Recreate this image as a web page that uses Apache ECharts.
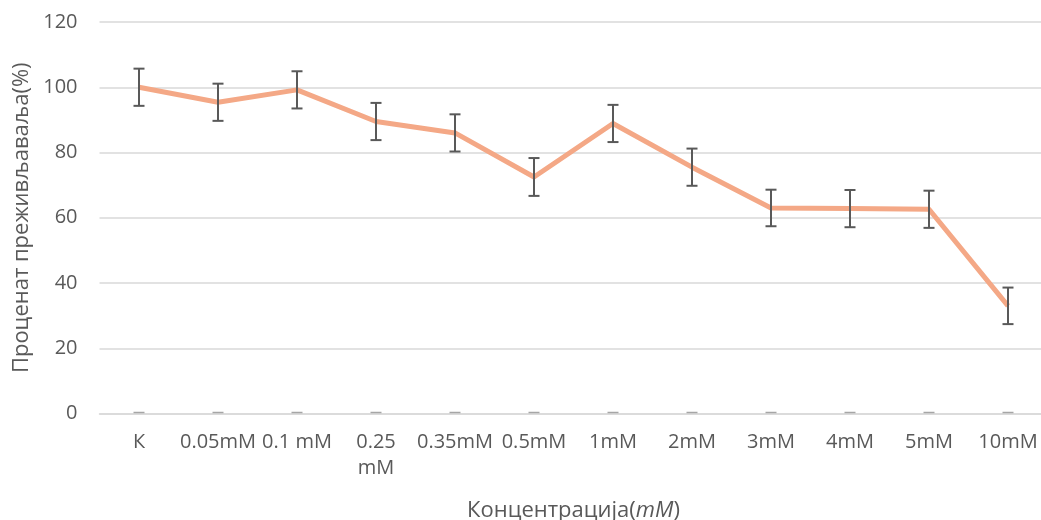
<!DOCTYPE html>
<html><head><meta charset="utf-8">
<script src="https://cdn.jsdelivr.net/npm/echarts@6/dist/echarts.min.js"></script>
<style>html,body{margin:0;padding:0;background:#fff}#c{width:1041px;height:520px}</style>
</head><body><div id="c"></div>
<script>
var categories = ['К', '0.05mM', '0.1 mM', '0.25\nmM', '0.35mM', '0.5mM', '1mM', '2mM', '3mM', '4mM', '5mM', '10mM'];
var survival = [100, 95.4, 99.2, 89.5, 86, 72.5, 88.9, 75.5, 63, 62.8, 62.6, 33];
var errors = [5.7, 5.7, 5.7, 5.7, 5.7, 5.8, 5.7, 5.7, 5.6, 5.7, 5.7, 5.6];
var zeroSeries = [0, 0, 0, 0, 0, 0, 0, 0, 0, 0, 0, 0];
var yTicks = [0, 20, 40, 60, 80, 100, 120];

var FONT = 'Open Sans';
var chart = echarts.init(document.getElementById('c'), null, {renderer: 'canvas'});
chart.setOption({
  animation: false,
  textStyle: {fontFamily: FONT},
  grid: {left: 99.5, top: 22, width: 948, height: 391.5, containLabel: false, outerBoundsMode: 'none'},
  xAxis: {
    type: 'category', data: categories, boundaryGap: true,
    axisLine: {show: true, lineStyle: {color: '#d9d9d9', width: 1.5}},
    axisTick: {show: false},
    axisLabel: {color: '#595959', fontSize: 20, margin: 16, lineHeight: 26, fontFamily: FONT, interval: 0, hideOverlap: false},
    name: 'Концентрација({i|mM})', nameLocation: 'middle', nameGap: 86,
    nameTextStyle: {color: '#595959', fontSize: 22, fontFamily: FONT,
      rich: {i: {fontStyle: 'italic', color: '#595959', fontSize: 22, fontFamily: FONT}}}
  },
  yAxis: {
    type: 'value', min: yTicks[0], max: yTicks[yTicks.length - 1], interval: 20,
    axisLine: {show: false}, axisTick: {show: false},
    splitLine: {lineStyle: {color: '#d9d9d9', width: 1.5}},
    axisLabel: {color: '#595959', fontSize: 20, margin: 22, fontFamily: FONT},
    name: 'Проценат преживљаваља(%)', nameLocation: 'middle', nameGap: 65, nameRotate: 90,
    nameTextStyle: {color: '#595959', fontSize: 22, fontFamily: FONT}
  },
  series: [
    {
      type: 'line', data: survival, symbol: 'none', z: 2,
      lineStyle: {color: '#F4A886', width: 5, join: 'round'}
    },
    {
      type: 'custom', z: 3, data: survival.map(function (v, i) { return [i, v, errors[i]]; }),
      renderItem: function (params, api) {
        var i = api.value(0), v = api.value(1), e = api.value(2);
        var top = api.coord([i, v + e]), bot = api.coord([i, v - e]);
        var w = 5.5;
        var st = {stroke: '#595959', lineWidth: 2};
        return {type: 'group', children: [
          {type: 'line', shape: {x1: top[0], y1: top[1], x2: bot[0], y2: bot[1]}, style: st},
          {type: 'line', shape: {x1: top[0] - w, y1: top[1], x2: top[0] + w, y2: top[1]}, style: st},
          {type: 'line', shape: {x1: bot[0] - w, y1: bot[1], x2: bot[0] + w, y2: bot[1]}, style: st}
        ]};
      }
    },
    {
      type: 'custom', z: 3, data: zeroSeries.map(function (v, i) { return [i, v]; }),
      renderItem: function (params, api) {
        var p = api.coord([api.value(0), api.value(1)]);
        return {type: 'line', shape: {x1: p[0] - 5.5, y1: p[1] - 1, x2: p[0] + 5.5, y2: p[1] - 1},
          style: {stroke: '#a6a6a6', lineWidth: 1.5}};
      }
    }
  ]
});
</script></body></html>
